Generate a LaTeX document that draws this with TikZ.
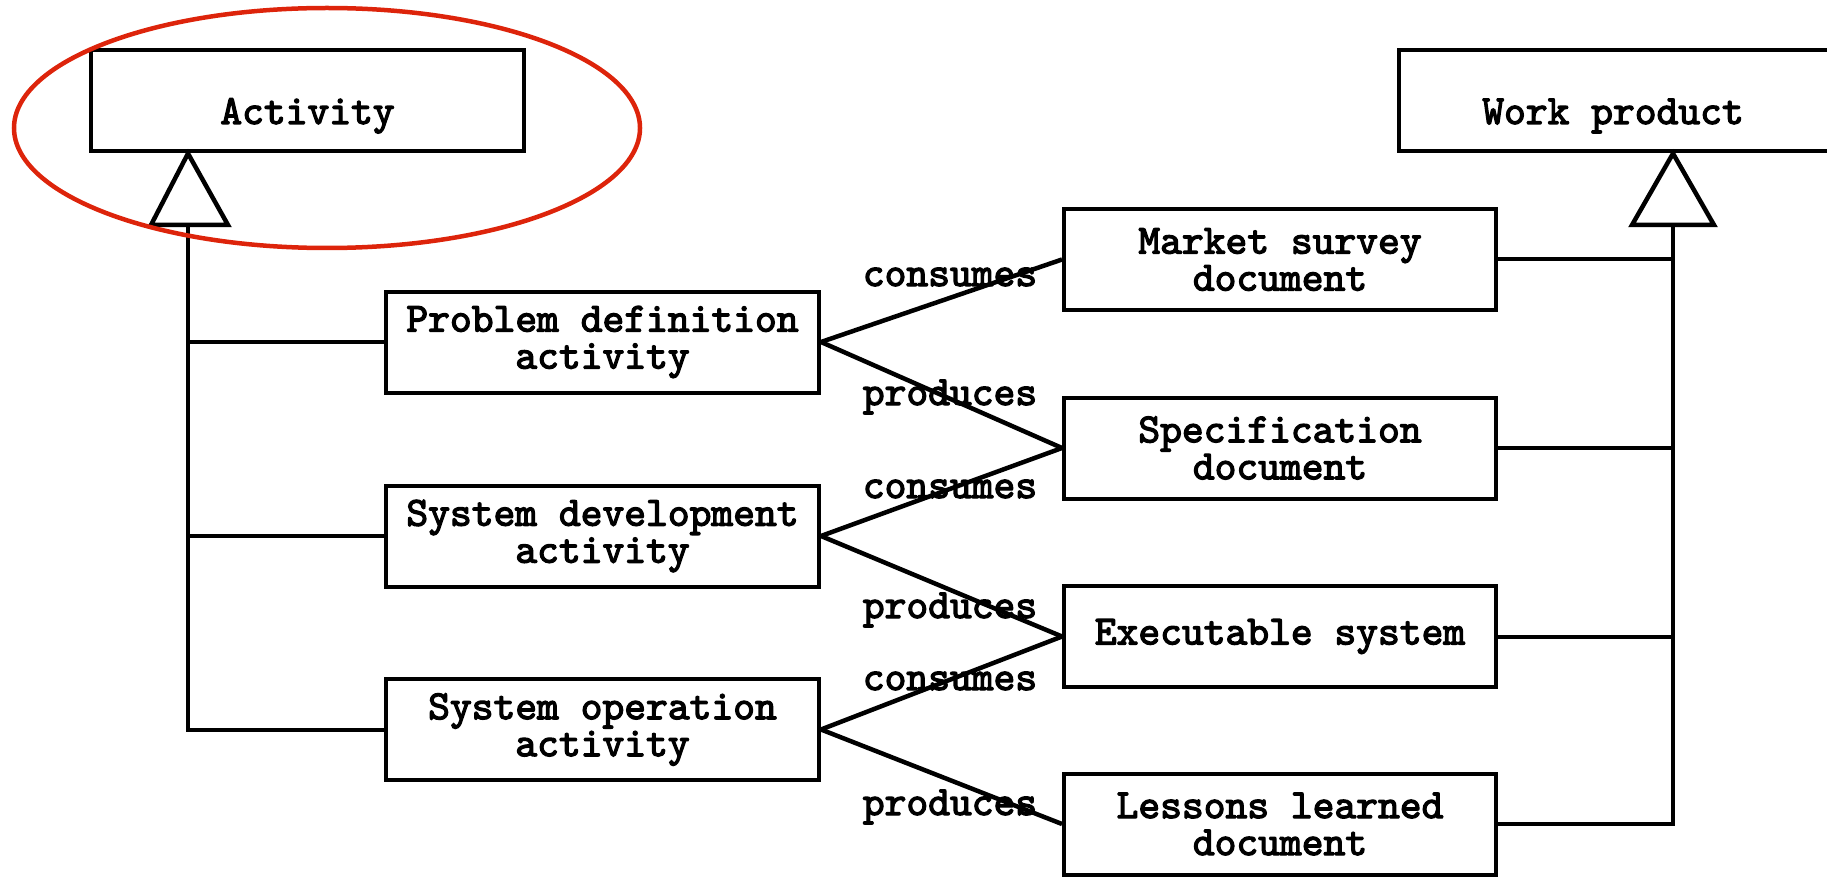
\documentclass[tikz,border=0pt]{standalone}
\usepackage{fontspec}
\newfontfamily\courfont{lmmono10-regular.otf}[FakeBold=3]
\usetikzlibrary{calc}
\definecolor{ellred}{RGB}{221,36,11}
\tikzset{
  txtfont/.style={font=\courfont\fontsize{41.5}{37}\selectfont},
  box/.style={draw, line width=4pt, minimum width=433pt, minimum height=101pt, inner sep=0pt, align=center, txtfont},
  boxtxt/.style={anchor=base, inner sep=0pt, txtfont},
  lbl/.style={anchor=base, inner sep=0pt, txtfont},
  conn/.style={line width=4.5pt},
  gen/.style={line width=4pt},
  tri/.style={draw, line width=4.5pt, fill=white, line join=miter},
  ell/.style={draw=ellred, line width=4.5pt}
}
\begin{document}
\begin{tikzpicture}[x=1pt,y=-1pt]
\useasboundingbox (0,0) rectangle (1827,877);
\clip (0,0) rectangle (1827,877);
% top boxes
\node[box] (act) at (307.5,101) {};
\node[boxtxt] (acttxt) at (307.5,124) {Activity};
\node[box] (wp) at (1615.5,101) {};
\node[boxtxt] (wptxt) at (1613,124) {Work product};
% activities
\node[box] (pd) at (602.5,342) {Problem definition\\activity};
\node[box] (sd) at (602.5,536) {System development\\activity};
\node[box] (so) at (602.5,729.5) {System operation\\activity};
% work products
\node[box, minimum width=432pt] (ms) at (1280,259.5) {Market survey\\document};
\node[box, minimum width=432pt] (sp) at (1280,448) {Specification\\document};
\node[box, minimum width=432pt] (ex) at (1280,636.5) {Executable system};
\node[box, minimum width=432pt] (ll) at (1280,824) {Lessons learned\\document};
% labels
\node[lbl] (c1) at (950,286) {consumes};
\node[lbl] (p1) at (950,405) {produces};
\node[lbl] (c2) at (950,498) {consumes};
\node[lbl] (p2) at (950,618) {produces};
\node[lbl] (c3) at (950,690) {consumes};
\node[lbl] (p3) at (950,815) {produces};
% consumes / produces connectors
\draw[conn] (pd.east) -- (ms.west);
\draw[conn] (pd.east) -- (sp.west);
\draw[conn] (sd.east) -- (sp.west);
\draw[conn] (sd.east) -- (ex.west);
\draw[conn] (so.east) -- (ex.west);
\draw[conn] (so.east) -- (ll.west);
% generalisation, activity side
\coordinate (aapex) at (188,153.5);
\coordinate (abase) at (188,225);
\draw[gen] (pd.west) -| (abase);
\draw[gen] (sd.west) -| (abase);
\draw[gen] (so.west) -| (abase);
\draw[tri] (aapex) -- (151,225) -- (228,225) -- cycle;
% generalisation, work product side
\coordinate (wapex) at (1673,153.5);
\coordinate (wbase) at (1673,225);
\draw[gen] (ms.east) -| (wbase);
\draw[gen] (sp.east) -| (wbase);
\draw[gen] (ex.east) -| (wbase);
\draw[gen] (ll.east) -| (wbase);
\draw[tri] (wapex) -- (1632,225) -- (1714,225) -- cycle;
% red ellipse
\draw[ell] (327,128) ellipse [x radius=313, y radius=120];
\end{tikzpicture}
\end{document}
